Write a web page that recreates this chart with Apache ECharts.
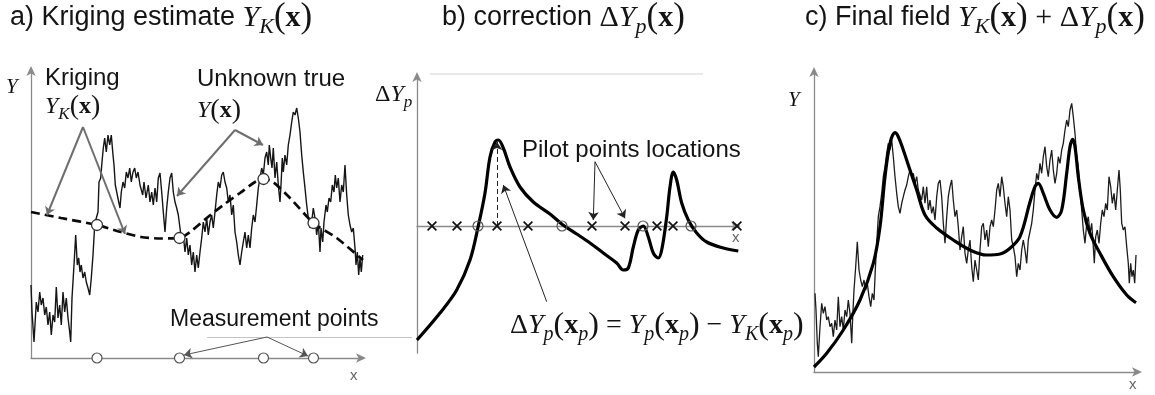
<!DOCTYPE html>
<html>
<head>
<meta charset="utf-8">
<title>Kriging, pilot-point correction and final field</title>
<script src="https://cdn.jsdelivr.net/npm/echarts@6/dist/echarts.min.js"></script>
<style>
  html, body { margin: 0; padding: 0; background: #ffffff; }
  #chart { width: 1155px; height: 395px; }
</style>
</head>
<body>
<div id="chart"></div>
<script>
// ---------- panel a: unknown true field and its kriging estimate ----------
const trueFieldA = [
  [0,73],[1,46],[3,16],[5.3,56],[7,46],[8.7,66],[10.3,53],[12,60],[13.7,43],[15.3,51],[17,33],[18.7,46],
  [20.3,23],[22,43],[23.7,36],[25.3,71],[27,40],[28.7,53],[30.3,33],[32,66],[33.7,46],[35.3,60],[37,40],
  [38.7,26],[39.7,16],[41,60],[43,93],[44.7,123],[46.3,93],[47.7,100],[49,86],[50.3,93],[52,80],[53.7,86],
  [55.3,76],[57,70],[58.7,63],[60.3,80],[62,103],[63.7,133],[65.3,140],[67,146],[68,176],[69.7,180],[71,196],
  [72.3,210],[73.7,220],[75.3,206],[77,223],[78.7,213],[80.3,223],[82,203],[83,193],[84.3,173],[86.3,163],
  [87.7,156],[89,150],[90.3,166],[92,176],[93.7,170],[95.3,186],[97,180],[98.7,190],[100.3,176],[102,186],
  [103.7,190],[105.3,180],[107,186],[109,173],[111.7,163],[113,176],[115,160],[117.3,173],[119,156],
  [120.7,166],[122.3,153],[124,170],[125.7,156],[127.3,180],[129,185],[130.7,166],[132.3,146],[134,126],
  [135.7,150],[137.3,166],[139,180],[140.7,185],[142.3,166],[144,156],[145.7,150],[147.3,143],[149,130],
  [150.7,116],[152.3,123],[154,106],[155.7,120],[157.3,103],[159,113],[160.7,93],[162.3,106],[164,86],
  [165.7,103],[167.3,90],[169,106],[170.7,120],[172.3,136],[174,126],[175.7,140],[177.3,123],[179,136],
  [180.7,143],[182.3,130],[184,146],[185.7,163],[187.3,176],[189,170],[190.7,183],[192.3,186],[194,176],
  [195.7,170],[197.3,156],[199,163],[200.7,143],[202.3,153],[204,126],[205.7,116],[207.3,103],[209,93],
  [210.7,106],[212.3,116],[214,126],[215.7,110],[217.3,123],[219,110],[220.7,130],[222.3,143],[224,136],
  [225.7,153],[227.3,170],[229,180],[230.7,190],[232.3,183],[234,200],[235.7,206],[237.3,193],[238.3,213],
  [239.7,200],[241,190],[242.3,210],[244,180],[245.7,196],[247.3,173],[249,156],[250,173],[251.3,200],
  [252.3,186],[254,203],[255.7,193],[257.3,213],[259,223],[260.7,236],[262.3,246],[264,243],[265.7,250],
  [267.3,240],[269,226],[270.7,203],[272.3,186],[274,170],[275.7,153],[277.3,140],[279,130],[280.7,136],
  [282.3,150],[284,140],[285.7,123],[287.3,136],[289,106],[290,130],[291.7,116],[293,136],[295,153],
  [296.3,146],[298,160],[299.7,156],[301.3,173],[303,166],[304.3,183],[305.7,170],[307.3,180],[309,156],
  [310.7,173],[312.3,166],[314,193],[315.7,163],[317.3,143],[319,133],[320.7,126],[322.3,130],[324,110],
  [325,93],[326.3,106],[327.7,83],[329,100],[330.3,86],[331.7,103]
];
const krigingA = [
  [0,146],[30,140],[66,133],[90,126],[110,121],[130,119.5],[148.5,120],[159,126],[175.7,140],[192.3,153],
  [209,165],[224,176],[232.5,179],[242,176],[259,160],[282.5,135],[305.7,120],[332,98]
];
const measureX = [66, 148.5, 232.5, 282.5];
const measureY = [133, 120, 179, 135];

// ---------- panel b: pilot-point correction ----------
const correctionB = [
  [0,-114],[23,-87],[39.7,-64],[53,-34],[61.3,0],[68,33],[73,69],[78,84],[81.3,86],[86.3,78],[93,59],
  [103,39],[116.3,24],[133,12],[146,1],[159.7,-8],[173,-17],[186.3,-27],[199.7,-37],[206.3,-44],[211.3,-42],
  [216.3,-21],[221.3,-4],[226.3,0],[231.3,-11],[236.3,-27],[241.3,-32],[244.7,-24],[249.7,9],[253,39],
  [256.3,54],[259.7,46],[264.7,23],[271.3,6],[279.7,-7],[289.7,-16],[306.3,-22],[321.3,-25]
];
const pilotX = [15, 40, 80, 111, 175, 208, 240, 256, 320];
const zeroX = [61, 145, 226, 274];
const pilotPeak = [80, 84];

// ---------- panel c: final field ----------
const trueFieldC = [
  [1,78.7],[2,62],[3.3,28.7],[4.3,15.3],[6,45.3],[7.7,68.7],[9.3,58.7],[11,65.3],[12.7,52],[14.3,55.3],
  [16,45.3],[17.7,48.7],[19.3,35.3],[21,52],[22.7,42],[24.3,75.3],[26,45.3],[27.7,55.3],[29.3,42],[31,62],
  [32.7,55.3],[34.3,72],[36,58.7],[37.7,28.7],[38.7,55.3],[40,82],[41.7,105.3],[43.3,130.3],[45,102],
  [46.7,92],[48.3,85.3],[50,92],[51.7,82],[53.3,88.7],[55,75.3],[56.7,65.3],[58.3,78.7],[60,72],[61.3,102],
  [62.7,128.7],[64.3,155.3],[66,165.3],[67.7,178.7],[69.3,195.3],[71,205.3],[72.7,218.7],[74.3,228.7],
  [76,222],[77.7,232],[79.3,215.3],[81,195.3],[82.7,178.7],[84.3,165.3],[86,158.7],[87.7,168.7],[89.3,175.3],
  [91,182],[92.7,187],[94.3,195.3],[96,202],[97.7,195.3],[99.3,198.7],[101,188.7],[102.7,195.3],[104.3,182],
  [106,182],[107.7,172],[109.3,185.3],[111,168.7],[112.7,185.3],[114.3,162],[116,172],[117.7,158.7],
  [119.3,165.3],[121,152],[122.7,175.3],[124.3,188.7],[126,192],[127.7,175.3],[129.3,148.7],[131,128.7],
  [132.7,155.3],[134.3,175.3],[136,185.3],[137.7,192],[139.3,172],[141,155.3],[142.7,162],[144.3,145.3],
  [146,122],[147.7,135.3],[149.3,145.3],[151,118.7],[152.7,108.7],[154.3,122],[156,132],[157.7,105.3],
  [159.3,90.3],[161,112],[162.7,102],[164.3,92],[166,122],[167.7,145.3],[169.3,148.7],[171,132],[172.7,142],
  [174.3,125.3],[176,145.3],[177.7,152],[179.3,145.3],[181,162],[182.7,182],[184.3,188.7],[186,175.3],
  [187.7,195.3],[189.3,185.3],[191,168.7],[192.7,155.3],[194.3,175.3],[196,162],[197.7,132],[199.3,125.3],
  [201,115.3],[202.7,95.3],[204.3,108.7],[206,102],[207.7,122],[209.3,132],[211,122],[212.7,108.7],
  [214.3,132],[216,132],[217.7,148.7],[219.3,162],[221,182],[222.7,198.7],[224.3,192],[226,208.7],
  [227.7,198.7],[229.3,215.3],[231,225.3],[232.7,205.3],[234.3,195.3],[236,212],[237.7,222],[239.3,202],
  [241,188.7],[242.7,198.7],[244.3,215.3],[246,208.7],[247.7,222],[249.3,228.7],[251,242],[252.7,252],
  [254.3,245.3],[256,262],[257.7,268.7],[259.3,255.3],[261,238.7],[262.7,215.3],[264.3,205.3],[266,182],
  [267.7,162],[269.3,142],[271,128.7],[272.7,148.7],[274.3,155.3],[276,138.7],[277.7,148.7],[279.3,125.3],
  [280.3,108.7],[281.7,135.3],[283.3,142],[285,128.7],[286.7,148.7],[288.3,162],[290,155.3],[291.7,168.7],
  [293.3,162],[295,195.3],[296.7,185.3],[298.3,168.7],[300,178.7],[301.7,162],[303.3,182],[305,202],
  [306.3,182],[307.7,148.7],[309.3,142],[311,145.3],[312.7,125.3],[314.3,108.7],[315.3,88.7],[316.7,108.7],
  [318,95.3],[319.3,102],[320.7,88.7],[322,117]
];
const finalC = [
  [0,5],[12.7,18.7],[29.3,42],[46,72],[59.3,108.7],[66,145.3],[71,195.3],[76,228.7],[81,239.3],[84.3,235.3],
  [89.3,222],[96,202],[102.7,182],[111,157],[122.7,144],[139.3,132],[156,122],[172.7,117],[186,118],
  [196,123.7],[206,135.3],[216,170],[221,185.3],[224.3,188.7],[229.3,178.7],[236,162],[242.7,154.7],
  [247.7,162],[252.7,198.7],[256,225.3],[258.7,232.7],[261,225.3],[264.3,195.3],[269.3,162],[276,138.7],
  [286,118.7],[299.3,95.3],[312.7,77],[322,69.3]
];

// ---------- annotation arrows (in each panel's data space) ----------
const arrowsA = [
  [[52,231],[16,143]], [[52,231],[94,124]],
  [[204,228],[146,162]], [[204,228],[232,213]]
];
const arrowsAMeasure = [ [[236,21],[153,3]], [[236,21],[277,2]] ];
const arrowsB = [
  [[129.7,-75.7],[86.3,41]],
  [[178,64.3],[176.3,6]], [[178,64.3],[208,7.7]]
];

// ---------- styles ----------
const SANS = '"Liberation Sans", Arial, Helvetica, sans-serif';
const SERIF = '"Liberation Serif", "DejaVu Serif", "Times New Roman", serif';
const AXIS_COLOR = '#8a8a8a';
const INK = '#141414';

function mathRich(size, sansSize, color) {
  const lh = Math.round(size * 1.35);
  return {
    t:   { fontFamily: SANS, fontSize: sansSize, lineHeight: lh, fill: color },
    mi:  { fontFamily: SERIF, fontStyle: 'italic', fontSize: size, lineHeight: lh, fill: color },
    mr:  { fontFamily: SERIF, fontSize: size, lineHeight: lh, fill: color },
    mp:  { fontFamily: SERIF, fontSize: Math.round(size * 1.15), lineHeight: lh, fill: color },
    mb:  { fontFamily: SERIF, fontWeight: 'bold', fontSize: size, lineHeight: lh, fill: color },
    sub: { fontFamily: SERIF, fontStyle: 'italic', fontSize: Math.round(size * 0.72),
           lineHeight: Math.round(size * 0.98), verticalAlign: 'bottom', fill: color }
  };
}

function text(x, y, str, rich, extra) {
  return {
    type: 'text', x: x, y: y, z: 20,
    style: Object.assign({
      text: str, rich: rich, fill: INK, fontFamily: SANS, fontSize: 24,
      verticalAlign: 'middle', align: 'left'
    }, extra || {})
  };
}

function axes(gridIndex, xMax, yMin, yMax) {
  const line = () => ({
    show: true, onZero: true,
    symbol: ['none', 'arrow'], symbolSize: [7, 10], symbolOffset: [0, 3],
    lineStyle: { color: AXIS_COLOR, width: 1.3 }
  });
  return {
    x: { type: 'value', gridIndex, min: 0, max: xMax, axisLine: line(),
         axisTick: { show: false }, axisLabel: { show: false }, splitLine: { show: false } },
    y: { type: 'value', gridIndex, min: yMin, max: yMax, axisLine: line(),
         axisTick: { show: false }, axisLabel: { show: false }, splitLine: { show: false } }
  };
}

const ax = [axes(0, 332, 0, 289), axes(1, 321, -127, 151), axes(2, 325, 0, 302)];

function arrowLines(idx, segs, color, width, dashed) {
  return {
    type: 'lines', coordinateSystem: 'cartesian2d', xAxisIndex: idx, yAxisIndex: idx,
    symbol: ['none', 'arrow'], symbolSize: 8, silent: true, z: 6, clip: false,
    lineStyle: { color: color, width: width, type: dashed ? [5, 3] : 'solid', opacity: 1 },
    data: segs.map(s => ({ coords: s }))
  };
}

const CROSS = 'path://M1.2,0L5,3.8L8.8,0L10,1.2L6.2,5L10,8.8L8.8,10L5,6.2L1.2,10L0,8.8L3.8,5L0,1.2Z';

const option = {
  backgroundColor: '#ffffff',
  animation: false,
  grid: [
    { left: 31, top: 69, width: 332, height: 289 },
    { left: 417, top: 75, width: 321, height: 278 },
    { left: 814, top: 70, width: 325, height: 302 }
  ],
  xAxis: ax.map(a => a.x),
  yAxis: ax.map(a => a.y),
  series: [
    // panel a
    { type: 'line', xAxisIndex: 0, yAxisIndex: 0, data: trueFieldA, showSymbol: false, clip: false,
      lineStyle: { color: '#151515', width: 1.4 }, z: 3 },
    { type: 'line', xAxisIndex: 0, yAxisIndex: 0, data: krigingA, showSymbol: false, smooth: 0.25,
      lineStyle: { color: '#0a0a0a', width: 2.7, type: [9, 5] }, z: 4 },
    arrowLines(0, arrowsA, '#6e6e6e', 2),
    arrowLines(0, arrowsAMeasure, '#555', 1),
    { type: 'scatter', xAxisIndex: 0, yAxisIndex: 0, clip: false, symbol: 'circle', symbolSize: 11, z: 8,
      itemStyle: { color: '#ffffff', borderColor: '#333', borderWidth: 1.3, opacity: 1 },
      data: measureX.map((x, i) => [x, measureY[i]]) },
    { type: 'scatter', xAxisIndex: 0, yAxisIndex: 0, clip: false, symbol: 'circle', symbolSize: 10, z: 8,
      itemStyle: { color: '#ffffff', borderColor: '#555', borderWidth: 1.2, opacity: 1 },
      data: measureX.map(x => [x, 0]) },
    // panel b
    { type: 'line', xAxisIndex: 1, yAxisIndex: 1, data: correctionB, showSymbol: false, smooth: 0.35,
      lineStyle: { color: '#000', width: 3.2 }, z: 4 },
    arrowLines(1, [[[pilotPeak[0], 0], pilotPeak]], '#222', 1, true),
    arrowLines(1, arrowsB, '#222', 1),
    { type: 'scatter', xAxisIndex: 1, yAxisIndex: 1, clip: false, symbol: CROSS, symbolSize: 10, z: 8,
      itemStyle: { color: '#111', opacity: 1 }, data: pilotX.map(x => [x, 0]) },
    { type: 'scatter', xAxisIndex: 1, yAxisIndex: 1, clip: false, symbol: 'circle', symbolSize: 10, z: 8,
      itemStyle: { color: 'rgba(255,255,255,0)', borderColor: '#555', borderWidth: 1.2, opacity: 1 },
      data: zeroX.map(x => [x, 0]) },
    // panel c
    { type: 'line', xAxisIndex: 2, yAxisIndex: 2, data: trueFieldC, showSymbol: false, clip: false,
      lineStyle: { color: '#1c1c1c', width: 1.3 }, z: 3 },
    { type: 'line', xAxisIndex: 2, yAxisIndex: 2, data: finalC, showSymbol: false, smooth: 0.35,
      lineStyle: { color: '#000', width: 3.2 }, z: 4 }
  ],
  graphic: []
};

const RT = mathRich(30, 27, INK);   // titles
const RL = mathRich(24, 24, INK);   // labels
const RF = mathRich(28, 24, INK);   // formula
const RY = mathRich(21, 21, INK);   // axis name

option.graphic = [
  // panel titles
  text(10, 18, '{t|a) Kriging estimate }{mi|Y}{sub|K}{mp|(}{mb|x}{mp|)}', RT),
  text(442, 18, '{t|b) correction }{mr|Δ}{mi|Y}{sub|p}{mp|(}{mb|x}{mp|)}', RT),
  text(805, 18, '{t|c) Final field }{mi|Y}{sub|K}{mp|(}{mb|x}{mp|)}{mr| + Δ}{mi|Y}{sub|p}{mp|(}{mb|x}{mp|)}', RT),

  // panel a labels
  text(6, 87, '{mi|Y}', RY),
  text(45, 78, '{t|Kriging}', RL),
  text(45, 107, '{mi|Y}{sub|K}{mp|(}{mb|x}{mp|)}', RL),
  text(197, 79, '{t|Unknown true}', RL),
  text(197, 111, '{mi|Y}{mp|(}{mb|x}{mp|)}', RL),
  text(170, 320, '{t|Measurement points}', mathRich(24, 23, INK)),
  text(350, 376, 'x', null, { fill: '#666', fontSize: 15 }),
  { type: 'line', z: 1, shape: { x1: 207, y1: 337.5, x2: 412, y2: 337.5 },
    style: { stroke: '#c4c4c4', lineWidth: 1 } },

  // panel b labels
  text(375, 95, '{mr|Δ}{mi|Y}{sub|p}', RL),
  text(522, 150, '{t|Pilot points locations}', RL),
  text(510, 326, '{mr|Δ}{mi|Y}{sub|p}{mp|(}{mb|x}{sub|p}{mp|)}{mr| = }{mi|Y}{sub|p}{mp|(}{mb|x}{sub|p}{mp|)}{mr| − }{mi|Y}{sub|K}{mp|(}{mb|x}{sub|p}{mp|)}', RF),
  text(732, 238, 'x', null, { fill: '#666', fontSize: 15 }),
  { type: 'line', z: 1, shape: { x1: 430, y1: 74, x2: 703, y2: 74 },
    style: { stroke: '#d2d2d2', lineWidth: 1 } },

  // panel c labels
  text(788, 100, '{mi|Y}', RY),
  text(1129, 385, 'x', null, { fill: '#666', fontSize: 15 })
];

const chart = echarts.init(document.getElementById('chart'), null, { renderer: 'canvas' });
chart.setOption(option);
</script>
</body>
</html>
